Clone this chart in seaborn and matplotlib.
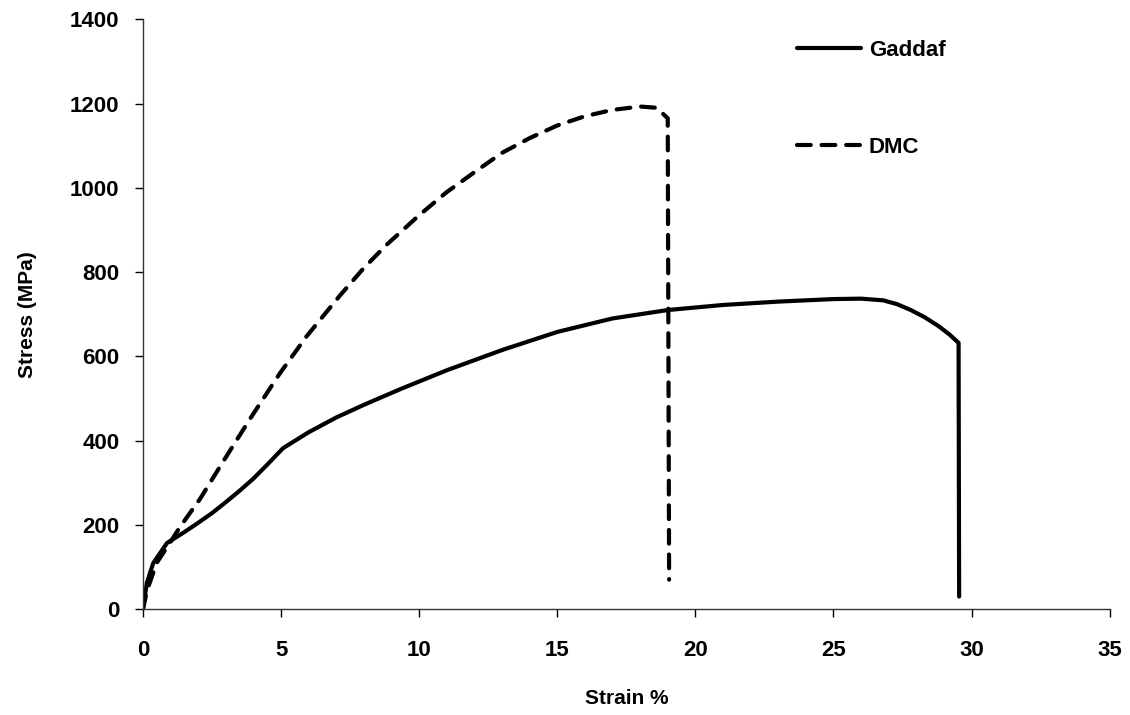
import pandas as pd
import numpy as np
import matplotlib
matplotlib.use('Agg')
import matplotlib.pyplot as plt
import seaborn as sns

# Stress-strain curves
gaddaf_strain = [0, 0.14, 0.37, 0.87, 1.5, 2.0, 2.5, 3.0, 3.5, 4.0, 4.5, 5.07, 6.0, 7.0, 8.0,
                 9.31, 11.0, 13.0, 15.0, 17.0, 19.0, 21.0, 23.0, 25.0, 26.0, 26.8, 27.3,
                 27.8, 28.3, 28.8, 29.2, 29.53, 29.55]
gaddaf_stress = [0, 62, 109, 157, 183, 205, 228, 254, 281, 310, 343, 382, 420, 455, 485,
                 522, 567, 615, 658, 690, 710, 722, 730, 736, 737, 733, 724,
                 710, 693, 672, 652, 632, 30]

dmc_strain = [0, 0.15, 0.5, 1.0, 1.34, 2.07, 2.9, 3.88, 4.96, 5.93, 7.14, 8.0, 8.84, 10.0,
              11.0, 12.0, 13.0, 14.0, 15.0, 16.0, 17.0, 18.0, 18.6, 19.0, 19.05]
dmc_stress = [0, 45, 110, 160, 195, 262, 350, 452, 560, 648, 745, 810, 866, 935,
              990, 1037, 1083, 1118, 1148, 1170, 1185, 1193, 1190, 1165, 70]

df = pd.concat([
    pd.DataFrame({'Strain': gaddaf_strain, 'Stress': gaddaf_stress, 'Material': 'Gaddaf'}),
    pd.DataFrame({'Strain': dmc_strain, 'Stress': dmc_stress, 'Material': 'DMC'}),
], ignore_index=True)

sns.set_style('ticks')
plt.rcParams['font.family'] = ['Liberation Sans', 'DejaVu Sans']
plt.rcParams['font.weight'] = 'bold'
plt.rcParams['text.color'] = 'black'
plt.rcParams['axes.labelcolor'] = 'black'

fig = plt.figure(figsize=(11.3, 7.15), dpi=100)
ax = fig.add_axes([0.1265, 0.148, 0.8555, 0.825])

sns.lineplot(data=df, x='Strain', y='Stress', hue='Material', style='Material',
             palette=['black', 'black'], dashes={'Gaddaf': '', 'DMC': (3.3, 2.6)},
             sort=False, estimator=None, linewidth=3, ax=ax)
for line in ax.get_lines():
    line.set_dash_capstyle('round')
    line.set_solid_capstyle('round')
    line.set_solid_joinstyle('round')
    line.set_dash_joinstyle('round')

ax.set_xlim(0, 35)
ax.set_ylim(0, 1400)
ax.set_xticks(range(0, 36, 5))
ax.set_yticks(range(0, 1401, 200))
ax.tick_params(labelsize=16, length=6, width=1, colors='black')
ax.tick_params(axis='x', pad=16)
ax.tick_params(axis='y', pad=11)
for lab in ax.get_xticklabels() + ax.get_yticklabels():
    lab.set_fontweight('bold')

ax.set_xlabel('Strain %', fontsize=15, fontweight='bold', labelpad=20)
ax.set_ylabel('Stress (MPa)', fontsize=15, fontweight='bold', labelpad=24)

sns.despine(ax=ax)
for s in ['left', 'bottom']:
    ax.spines[s].set_linewidth(1)
    ax.spines[s].set_color('#333333')

leg = ax.legend(loc='upper left', bbox_to_anchor=(0.66, 0.992), frameon=False,
                fontsize=16, handlelength=2.9, handletextpad=0.35, labelspacing=3.45,
                borderaxespad=0.3)
for t in leg.get_texts():
    t.set_fontweight('bold')
for h in leg.get_lines():
    h.set_linewidth(3)
    h.set_dash_capstyle('round')

fig.savefig('out.png', dpi=100)
